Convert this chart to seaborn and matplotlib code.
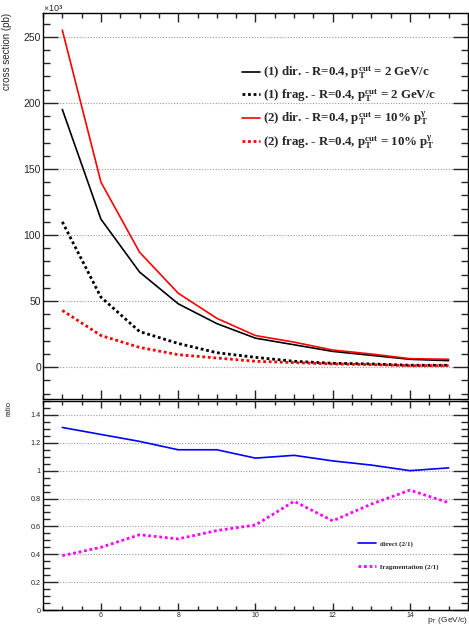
import matplotlib
matplotlib.use("Agg")
import matplotlib.pyplot as plt
from matplotlib.ticker import MultipleLocator, FormatStrFormatter
import seaborn as sns

# pT bins (GeV/c)
pt = [5, 6, 7, 8, 9, 10, 11, 12, 13, 14, 15]

# cross sections in units of 10^3 pb
dir_1 = [195, 112, 72, 48, 33, 22, 17, 12, 9, 6, 5]
frag_1 = [110, 53, 27, 18, 11, 7.5, 4.5, 3, 2.5, 1.5, 1.5]
dir_2 = [255, 140, 87, 56, 37, 24, 19, 13, 10, 6.5, 6]
frag_2 = [43, 24, 15, 9.5, 7, 4.5, 3.5, 2.5, 2, 1.2, 1.2]

# ratios (2/1)
ratio_dir = [1.31, 1.26, 1.21, 1.15, 1.15, 1.09, 1.11, 1.07, 1.04, 1.00, 1.02]
ratio_frag = [0.39, 0.45, 0.54, 0.51, 0.57, 0.61, 0.78, 0.64, 0.76, 0.86, 0.77]

labels_top = [
    r"(1) dir. - R=0.4, $p_T^{cut}$ = 2 GeV/c",
    r"(1) frag. - R=0.4, $p_T^{cut}$ = 2 GeV/c",
    r"(2) dir. - R=0.4, $p_T^{cut}$ = 10% $p_T^{\gamma}$",
    r"(2) frag. - R=0.4, $p_T^{cut}$ = 10% $p_T^{\gamma}$",
]
labels_ratio = ["direct (2/1)", "fragmentation (2/1)"]

sns.set_style("ticks")
plt.rcParams.update({
    "font.family": ["Liberation Sans", "DejaVu Sans"],
    "mathtext.fontset": "custom",
    "mathtext.rm": "Liberation Serif:bold",
    "mathtext.it": "Liberation Serif:bold",
    "mathtext.bf": "Liberation Serif:bold",
    "mathtext.sf": "Liberation Sans",
    "mathtext.default": "rm",
    "axes.linewidth": 1.0,
    "axes.edgecolor": "black",
    "xtick.direction": "in",
    "ytick.direction": "in",
    "xtick.top": True,
    "ytick.right": True,
})

dotted = (0, (1, 1))
grid_kw = dict(color="#999999", linestyle=(0, (1, 1.5)), linewidth=0.8)

fig = plt.figure(figsize=(4.69, 6.29), dpi=100)
ax1 = fig.add_axes([0.0917, 0.3657, 0.906, 0.6137])
ax2 = fig.add_axes([0.0917, 0.0302, 0.906, 0.3323], sharex=ax1)

# ---- top panel: cross sections ----
sns.lineplot(x=pt, y=dir_1, ax=ax1, color="black", linewidth=1.2, label=labels_top[0])
sns.lineplot(x=pt, y=frag_1, ax=ax1, color="black", linewidth=2.0, linestyle=dotted, label=labels_top[1])
sns.lineplot(x=pt, y=dir_2, ax=ax1, color="red", linewidth=1.2, label=labels_top[2])
sns.lineplot(x=pt, y=frag_2, ax=ax1, color="red", linewidth=2.0, linestyle=dotted, label=labels_top[3])

ax1.set_xlim(4.5, 15.5)
ax1.set_ylim(-24, 268)
ax1.yaxis.set_major_locator(MultipleLocator(50))
ax1.yaxis.set_minor_locator(MultipleLocator(10))
ax1.xaxis.set_major_locator(MultipleLocator(2))
ax1.xaxis.set_minor_locator(MultipleLocator(0.5))
for y in range(0, 251, 50):
    ax1.axhline(y, zorder=0, **grid_kw)
ax1.tick_params(axis="y", which="major", length=11, width=1, labelsize=7.5, pad=1.5)
ax1.tick_params(axis="y", which="minor", length=5, width=1)
ax1.tick_params(axis="x", which="major", length=6.5, width=1, labelbottom=False)
ax1.tick_params(axis="x", which="minor", length=3.5, width=1)
ax1.set_ylabel("cross section (pb)", fontsize=7, loc="top")
ax1.yaxis.set_label_coords(-0.072, 1.0)
fig.text(43 / 469, 1 - 9 / 629, r"$\times$10$^3$", fontsize=6.5, ha="left", va="center",
         family=["Liberation Sans", "DejaVu Sans"])

leg1 = ax1.legend(loc="upper left", bbox_to_anchor=(0.455, 0.88), frameon=False,
                  prop={"family": "Liberation Serif", "weight": "bold", "size": 9.3},
                  handlelength=1.4, handletextpad=0.3, labelspacing=0.45, borderaxespad=0)

# ---- bottom panel: ratios ----
sns.lineplot(x=pt, y=ratio_dir, ax=ax2, color="blue", linewidth=1.2, label=labels_ratio[0])
sns.lineplot(x=pt, y=ratio_frag, ax=ax2, color="magenta", linewidth=2.0, linestyle=dotted,
             label=labels_ratio[1])

ax2.set_ylim(0, 1.5)
ax2.yaxis.set_major_locator(MultipleLocator(0.2))
ax2.yaxis.set_minor_locator(MultipleLocator(0.05))
ax2.yaxis.set_major_formatter(FormatStrFormatter("%g"))
for y in [0.2, 0.4, 0.6, 0.8, 1.0, 1.2, 1.4]:
    ax2.axhline(y, zorder=0, **grid_kw)
ax2.tick_params(axis="y", which="major", length=11, width=1, labelsize=5.2, pad=1.5)
ax2.tick_params(axis="y", which="minor", length=5, width=1)
ax2.tick_params(axis="x", which="major", length=5, width=1, labelsize=5, pad=1.5)
ax2.tick_params(axis="x", which="minor", length=3, width=1)
ax2.set_ylabel("ratio", fontsize=5.5, loc="top")
ax2.yaxis.set_label_coords(-0.072, 1.0)
ax2.set_xlabel(r"$\mathsf{p_T}$ (GeV/c)", fontsize=6, loc="right")
ax2.xaxis.set_label_coords(1.0, -0.022)

leg2 = ax2.legend(loc="upper left", bbox_to_anchor=(0.735, 0.346), frameon=False,
                  prop={"family": "Liberation Serif", "weight": "bold", "size": 5},
                  handlelength=2.6, handletextpad=0.6, labelspacing=2.4, borderaxespad=0)

fig.savefig("out.png", dpi=100)
plt.close(fig)
